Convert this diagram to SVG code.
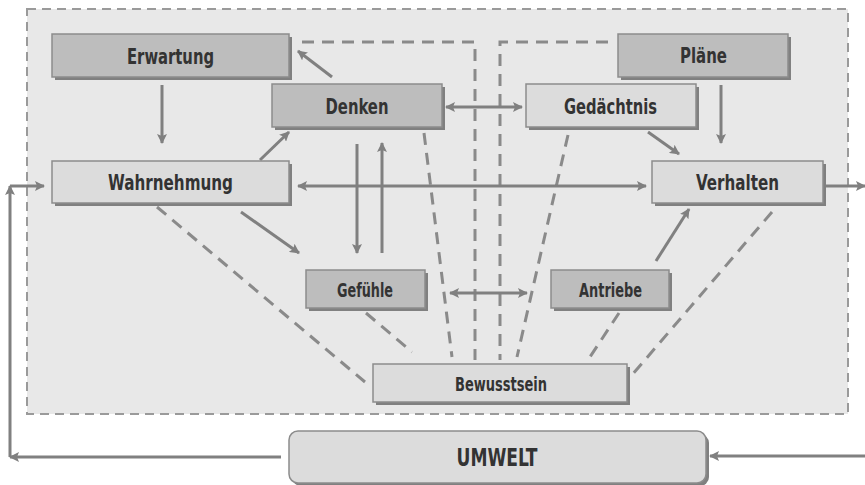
<svg xmlns="http://www.w3.org/2000/svg" width="865" height="485" viewBox="0 0 865 485">
<defs>
<style>
.frame{fill:#e8e8e8;stroke:#9a9a9a;stroke-width:2;stroke-dasharray:9,6}
.shadow{fill:#808080}
.dark{fill:#bdbdbd;stroke:#8c8c8c;stroke-width:1.5}
.light{fill:#dcdcdc;stroke:#8c8c8c;stroke-width:1.5}
.lbl{font-family:"Liberation Sans Narrow","DejaVu Sans Condensed","Liberation Sans",sans-serif;font-weight:bold;fill:#333;text-anchor:middle}
.big{font-size:22px}
.small{font-size:19px}
.line{fill:none;stroke:#808080;stroke-width:3}
.dash{fill:none;stroke:#8a8a8a;stroke-width:3;stroke-dasharray:12,8}
</style>
<marker id="ah" viewBox="0 0 10 10" refX="9" refY="5" markerWidth="10" markerHeight="10" markerUnits="userSpaceOnUse" orient="auto-start-reverse">
<path d="M0,0 L10,5 L0,10 L2,5 Z" fill="#808080"/>
</marker>
</defs>
<rect class="frame" x="27" y="9" width="821" height="405"/>
<g id="connectors">
<path class="dash" d="M302,42 H475 V360"/>
<path class="dash" d="M608,42 H500 V360"/>
<path class="dash" d="M424,133 L452,357"/>
<path class="dash" d="M568,135 L517,357"/>
<path class="dash" d="M157,207 L365,382"/>
<path class="dash" d="M366,313 L412,352"/>
<path class="dash" d="M619,313 L586,363"/>
<path class="dash" d="M772,212 L632,375"/>
<path class="line" d="M162,85 V143" marker-end="url(#ah)"/>
<path class="line" d="M332,77 L298,51" marker-end="url(#ah)"/>
<path class="line" d="M260,160 L289,132" marker-end="url(#ah)"/>
<path class="line" d="M446,107 H522" marker-start="url(#ah)" marker-end="url(#ah)"/>
<path class="line" d="M298,186 H646" marker-start="url(#ah)" marker-end="url(#ah)"/>
<path class="line" d="M648,132 L679,154" marker-end="url(#ah)"/>
<path class="line" d="M721,85 V143" marker-end="url(#ah)"/>
<path class="line" d="M357,144 V253" marker-end="url(#ah)"/>
<path class="line" d="M382,253 V143" marker-end="url(#ah)"/>
<path class="line" d="M241,212 L299,253" marker-end="url(#ah)"/>
<path class="line" d="M450,293 H527" marker-start="url(#ah)" marker-end="url(#ah)"/>
<path class="line" d="M656,261 L689,209" marker-end="url(#ah)"/>
<path class="line" d="M826,186 H865" marker-end="url(#ah)"/>
<path class="line" d="M865,456 H710" marker-end="url(#ah)"/>
<path class="line" d="M281,457 H10" marker-end="url(#ah)"/>
<path class="line" d="M10,457 V186" marker-end="url(#ah)"/>
<path class="line" d="M10,186 H44" marker-end="url(#ah)"/>
</g>
<g id="erwartung">
<rect class="shadow" x="55" y="37" width="237" height="43"/>
<rect class="dark" x="52" y="34" width="237" height="43"/>
<text class="lbl big" x="170.5" y="64" textLength="87" lengthAdjust="spacingAndGlyphs">Erwartung</text>
</g>
<g id="denken">
<rect class="shadow" x="275" y="87" width="170" height="43"/>
<rect class="dark" x="272" y="84" width="170" height="43"/>
<text class="lbl big" x="357" y="114" textLength="63" lengthAdjust="spacingAndGlyphs">Denken</text>
</g>
<g id="wahrnehmung">
<rect class="shadow" x="55" y="164" width="237" height="42"/>
<rect class="light" x="52" y="161" width="237" height="42"/>
<text class="lbl big" x="170.5" y="190" textLength="125" lengthAdjust="spacingAndGlyphs">Wahrnehmung</text>
</g>
<g id="plaene">
<rect class="shadow" x="621" y="37" width="170" height="43"/>
<rect class="dark" x="618" y="34" width="170" height="43"/>
<text class="lbl big" x="703.5" y="63" textLength="47" lengthAdjust="spacingAndGlyphs">Pläne</text>
</g>
<g id="gedaechtnis">
<rect class="shadow" x="529" y="87" width="170" height="43"/>
<rect class="light" x="526" y="84" width="170" height="43"/>
<text class="lbl big" x="610.5" y="114" textLength="93" lengthAdjust="spacingAndGlyphs">Gedächtnis</text>
</g>
<g id="verhalten">
<rect class="shadow" x="655" y="164" width="171" height="42"/>
<rect class="light" x="652" y="161" width="171" height="42"/>
<text class="lbl big" x="737.5" y="190" textLength="83" lengthAdjust="spacingAndGlyphs">Verhalten</text>
</g>
<g id="gefuehle">
<rect class="shadow" x="309" y="273" width="119" height="38"/>
<rect class="dark" x="306" y="270" width="119" height="38"/>
<text class="lbl small" x="365" y="297" textLength="56" lengthAdjust="spacingAndGlyphs">Gefühle</text>
</g>
<g id="antriebe">
<rect class="shadow" x="554" y="273" width="118" height="38"/>
<rect class="dark" x="551" y="270" width="118" height="38"/>
<text class="lbl small" x="610.5" y="297" textLength="63" lengthAdjust="spacingAndGlyphs">Antriebe</text>
</g>
<g id="bewusstsein">
<rect class="shadow" x="376" y="367" width="254" height="38"/>
<rect class="light" x="373" y="364" width="254" height="38"/>
<text class="lbl small" x="501" y="391" textLength="92" lengthAdjust="spacingAndGlyphs">Bewusstsein</text>
</g>
<g id="umwelt">
<rect class="shadow" x="292" y="434" width="417" height="52" rx="9"/>
<rect class="light" x="289" y="431" width="417" height="52" rx="9"/>
<text class="lbl" style="font-size:24px" x="497" y="466" textLength="81" lengthAdjust="spacingAndGlyphs">UMWELT</text>
</g>
</svg>
